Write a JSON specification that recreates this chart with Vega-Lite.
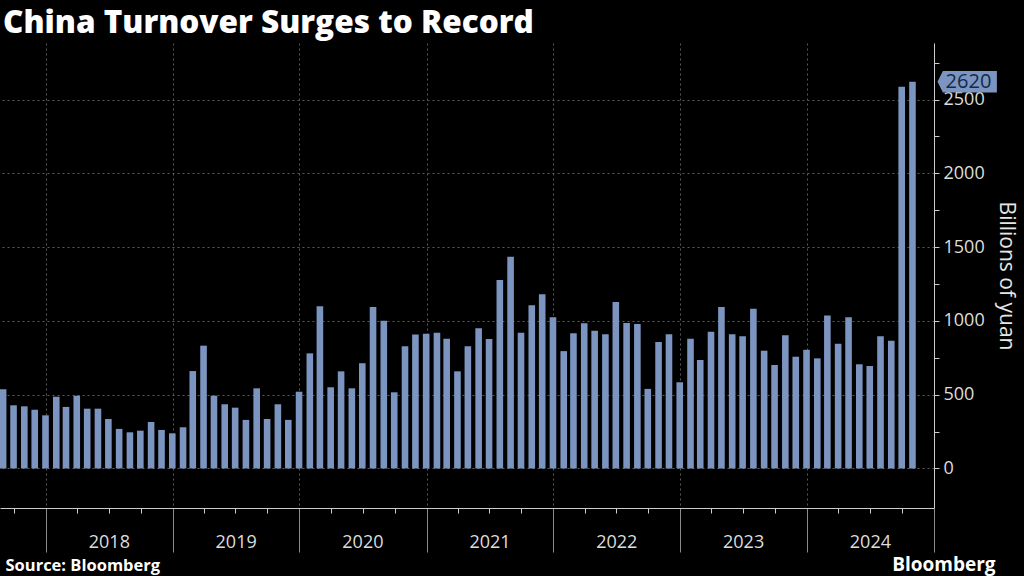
{
  "$schema": "https://vega.github.io/schema/vega-lite/v6.json",
  "width": 934,
  "height": 465,
  "autosize": "none",
  "padding": {"left": 0, "top": 43, "right": 90, "bottom": 68},
  "background": "#000000",
  "config": {"view": {"stroke": null}, "font": "Open Sans"},
  "title": {
    "text": "China Turnover Surges to Record",
    "anchor": "start",
    "frame": "group",
    "offset": 4,
    "dx": 3,
    "fontSize": 31.5,
    "font": "Open Sans",
    "fontWeight": 800,
    "color": "#ffffff"
  },
  "datasets": {
    "turnover": [
      {"date": "2017-08-31", "value": 537},
      {"date": "2017-09-30", "value": 428},
      {"date": "2017-10-31", "value": 421},
      {"date": "2017-11-30", "value": 398},
      {"date": "2017-12-31", "value": 360},
      {"date": "2018-01-31", "value": 486},
      {"date": "2018-02-28", "value": 417},
      {"date": "2018-03-31", "value": 493},
      {"date": "2018-04-30", "value": 405},
      {"date": "2018-05-31", "value": 405},
      {"date": "2018-06-30", "value": 335},
      {"date": "2018-07-31", "value": 268},
      {"date": "2018-08-31", "value": 245},
      {"date": "2018-09-30", "value": 256},
      {"date": "2018-10-31", "value": 315},
      {"date": "2018-11-30", "value": 261},
      {"date": "2018-12-31", "value": 238},
      {"date": "2019-01-31", "value": 279},
      {"date": "2019-02-28", "value": 660},
      {"date": "2019-03-31", "value": 832},
      {"date": "2019-04-30", "value": 493},
      {"date": "2019-05-31", "value": 435},
      {"date": "2019-06-30", "value": 412},
      {"date": "2019-07-31", "value": 329},
      {"date": "2019-08-31", "value": 543},
      {"date": "2019-09-30", "value": 335},
      {"date": "2019-10-31", "value": 435},
      {"date": "2019-11-30", "value": 329},
      {"date": "2019-12-31", "value": 520},
      {"date": "2020-01-31", "value": 780},
      {"date": "2020-02-29", "value": 1099},
      {"date": "2020-03-31", "value": 550},
      {"date": "2020-04-30", "value": 658},
      {"date": "2020-05-31", "value": 543},
      {"date": "2020-06-30", "value": 713},
      {"date": "2020-07-31", "value": 1094},
      {"date": "2020-08-31", "value": 1001},
      {"date": "2020-09-30", "value": 516},
      {"date": "2020-10-31", "value": 828},
      {"date": "2020-11-30", "value": 907},
      {"date": "2020-12-31", "value": 913},
      {"date": "2021-01-31", "value": 920},
      {"date": "2021-02-28", "value": 879},
      {"date": "2021-03-31", "value": 658},
      {"date": "2021-04-30", "value": 828},
      {"date": "2021-05-31", "value": 950},
      {"date": "2021-06-30", "value": 877},
      {"date": "2021-07-31", "value": 1277},
      {"date": "2021-08-31", "value": 1435},
      {"date": "2021-09-30", "value": 920},
      {"date": "2021-10-31", "value": 1106},
      {"date": "2021-11-30", "value": 1180},
      {"date": "2021-12-31", "value": 1024},
      {"date": "2022-01-31", "value": 795},
      {"date": "2022-02-28", "value": 916},
      {"date": "2022-03-31", "value": 984},
      {"date": "2022-04-30", "value": 933},
      {"date": "2022-05-31", "value": 909},
      {"date": "2022-06-30", "value": 1128},
      {"date": "2022-07-31", "value": 986},
      {"date": "2022-08-31", "value": 979},
      {"date": "2022-09-30", "value": 539},
      {"date": "2022-10-31", "value": 857},
      {"date": "2022-11-30", "value": 909},
      {"date": "2022-12-31", "value": 584},
      {"date": "2023-01-31", "value": 879},
      {"date": "2023-02-28", "value": 735},
      {"date": "2023-03-31", "value": 927},
      {"date": "2023-04-30", "value": 1094},
      {"date": "2023-05-31", "value": 909},
      {"date": "2023-06-30", "value": 896},
      {"date": "2023-07-31", "value": 1083},
      {"date": "2023-08-31", "value": 798},
      {"date": "2023-09-30", "value": 701},
      {"date": "2023-10-31", "value": 902},
      {"date": "2023-11-30", "value": 757},
      {"date": "2023-12-31", "value": 804},
      {"date": "2024-01-31", "value": 746},
      {"date": "2024-02-29", "value": 1036},
      {"date": "2024-03-31", "value": 845},
      {"date": "2024-04-30", "value": 1024},
      {"date": "2024-05-31", "value": 706},
      {"date": "2024-06-30", "value": 694},
      {"date": "2024-07-31", "value": 895},
      {"date": "2024-08-31", "value": 866},
      {"date": "2024-09-30", "value": 2587},
      {"date": "2024-10-31", "value": 2620}
    ],
    "callout": [
      {"date": "2025-01-11", "value": 2620, "label": "2620"}
    ]
  },
  "resolve": {"axis": {"x": "independent", "y": "independent"}},
  "layer": [
    {
      "data": {"name": "turnover"},
      "mark": {"type": "bar", "width": 6.6, "color": "#7b95c0"},
      "encoding": {
        "x": {
          "field": "date",
          "type": "temporal",
          "scale": {"type": "utc", "domain": ["2017-08-22", "2025-01-01"], "padding": 0},
          "axis": {
            "orient": "bottom",
            "values": [1514764800000, 1546300800000, 1577836800000, 1609459200000, 1640995200000, 1672531200000, 1704067200000, 1735689600000],
            "labelExpr": "utcyear(datum.value) < 2025 ? utcFormat(datum.value, '%Y') : ''",
            "labelOffset": 63,
            "labelAlign": "center",
            "labelOverlap": false,
            "labelBound": false,
            "labelFlush": false,
            "labelPadding": -19,
            "labelFontSize": 18,
            "labelFont": "Open Sans",
            "labelColor": "#dddddd",
            "tickSize": 44,
            "tickColor": "#8a8a8a",
            "tickWidth": 1,
            "domainColor": "#cccccc",
            "domainWidth": 1,
            "grid": true,
            "gridColor": "#5a5a5a",
            "gridDash": [2, 3],
            "gridWidth": 1,
            "title": "Source: Bloomberg",
            "titleX": 5,
            "titleY": 62,
            "titleAlign": "left",
            "titleAnchor": "start",
            "titleBaseline": "alphabetic",
            "titleFont": "Open Sans",
            "titleFontSize": 16.5,
            "titleFontWeight": "bold",
            "titleColor": "#ffffff"
          }
        },
        "y": {
          "field": "value",
          "type": "quantitative",
          "scale": {"domain": [-268, 2883], "nice": false, "zero": false},
          "axis": {
            "orient": "right",
            "values": [0, 250, 500, 750, 1000, 1250, 1500, 1750, 2000, 2250, 2500, 2750],
            "labelExpr": "datum.value % 500 == 0 ? datum.label : ''",
            "format": "d",
            "labelFontSize": 18,
            "labelFont": "Open Sans",
            "labelColor": "#dddddd",
            "labelPadding": 4,
            "labelOverlap": false,
            "labelBound": false,
            "labelFlush": false,
            "tickSize": 5,
            "tickColor": "#cccccc",
            "domainColor": "#cccccc",
            "grid": true,
            "gridColor": "#5a5a5a",
            "gridDash": [2, 3],
            "gridWidth": 1,
            "gridOpacity": {"condition": {"test": "datum.value % 500 == 0", "value": 1}, "value": 0},
            "title": "Billions of yuan",
            "titleFont": "Open Sans",
            "titleFontSize": 21,
            "titleFontWeight": "normal",
            "titleColor": "#e6e6e6",
            "titlePadding": 11
          }
        }
      }
    },
    {
      "data": {"name": "callout"},
      "mark": {
        "type": "point",
        "shape": "M0,0L0.18,-0.36L1.98,-0.36L1.98,0.36L0.18,0.36Z",
        "size": 3600,
        "filled": true,
        "opacity": 1,
        "color": "#7b95c0",
        "strokeWidth": 0,
        "clip": false
      },
      "encoding": {
        "x": {
          "field": "date",
          "type": "temporal",
          "axis": {
            "orient": "bottom",
            "values": [1506816000000, 1522540800000, 1530403200000, 1538352000000, 1554076800000, 1561939200000, 1569888000000, 1585699200000, 1593561600000, 1601510400000, 1617235200000, 1625097600000, 1633046400000, 1648771200000, 1656633600000, 1664582400000, 1680307200000, 1688169600000, 1696118400000, 1711929600000, 1719792000000, 1727740800000],
            "labels": false,
            "grid": false,
            "domain": false,
            "tickSize": 5,
            "tickColor": "#cccccc",
            "tickWidth": 1,
            "title": null
          }
        },
        "y": {
          "field": "value",
          "type": "quantitative",
          "axis": {
            "orient": "left",
            "labels": false,
            "ticks": false,
            "domain": false,
            "grid": false,
            "title": "Bloomberg",
            "titleX": 995,
            "titleY": 527,
            "titleAngle": 0,
            "titleAlign": "right",
            "titleBaseline": "alphabetic",
            "titleFont": "Open Sans",
            "titleFontSize": 19,
            "titleFontWeight": "bold",
            "titleColor": "#ffffff"
          }
        }
      }
    },
    {
      "data": {"name": "callout"},
      "mark": {
        "type": "text",
        "dx": 31,
        "align": "center",
        "baseline": "middle",
        "font": "Open Sans",
        "fontSize": 20,
        "color": "#15294a",
        "clip": false
      },
      "encoding": {
        "x": {"field": "date", "type": "temporal", "axis": null},
        "y": {"field": "value", "type": "quantitative", "axis": null},
        "text": {"field": "label", "type": "nominal"}
      }
    }
  ]
}
